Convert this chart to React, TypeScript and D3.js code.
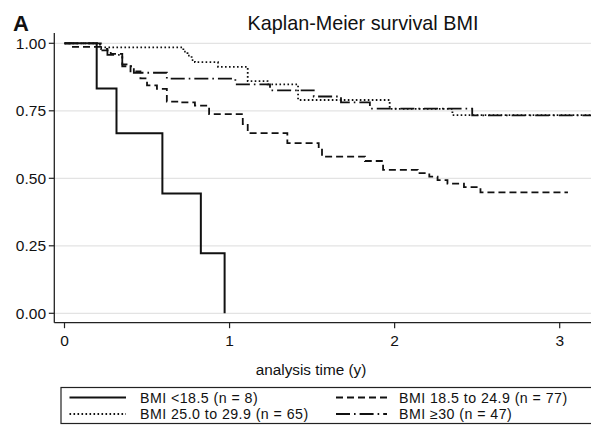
import React, { useEffect, useRef } from "react";
import * as d3 from "d3";

// survival estimates (time in years, survival probability)
const underTime = [0, 0.195, 0.315, 0.593, 0.826, 0.97];
const underSurv = [1, 0.833, 0.667, 0.444, 0.222, 0];

const normalTime = [0, 0.04, 0.22, 0.28, 0.35, 0.4, 0.46, 0.5, 0.56, 0.62, 0.7, 0.79, 0.876, 1.08, 1.11, 1.35, 1.54, 1.56, 1.82, 1.93, 2.14, 2.21, 2.26, 2.32, 2.42, 2.52, 3.05];
const normalSurv = [1, 0.987, 0.974, 0.961, 0.922, 0.896, 0.87, 0.844, 0.831, 0.784, 0.781, 0.769, 0.738, 0.701, 0.667, 0.63, 0.61, 0.58, 0.564, 0.531, 0.519, 0.506, 0.493, 0.48, 0.467, 0.448, 0.448];

const overTime = [0, 0.215, 0.72, 0.745, 0.77, 0.79, 0.93, 1.11, 1.23, 1.415, 1.97, 2.35, 3.2];
const overSurv = [1, 0.985, 0.969, 0.954, 0.938, 0.93, 0.913, 0.86, 0.848, 0.79, 0.757, 0.734, 0.734];

const obeseTime = [0, 0.22, 0.26, 0.35, 0.42, 0.62, 1.035, 1.245, 1.51, 1.675, 1.85, 2.47, 3.2];
const obeseSurv = [1, 0.979, 0.957, 0.915, 0.891, 0.869, 0.848, 0.826, 0.803, 0.781, 0.758, 0.733, 0.733];

const xTicks = [0, 1, 2, 3];
const yTicks = [0, 0.25, 0.5, 0.75, 1];

const FONT = "'Liberation Sans', Arial, Helvetica, sans-serif";

const App = () => {
    const svgRef = useRef(null);
    const width = 591;
    const height = 426;

    useEffect(() => {
        const svg = d3.select(svgRef.current);
        svg.selectAll("*").remove();

        const xScale = d3.scaleLinear().domain([0, 3]).range([64.5, 559.7]);
        const yScale = d3.scaleLinear().domain([0, 1]).range([313.3, 43.3]);

        const plotLeft = 54.3;
        const plotBottom = 322.7;
        const plotTop = 33;

        svg.append("rect").attr("width", width).attr("height", height).attr("fill", "#fff");

        // title + panel letter
        svg.append("text").attr("x", 13).attr("y", 31).attr("font-family", FONT)
            .attr("font-weight", "bold").attr("font-size", 22).attr("fill", "#111").text("A");
        svg.append("text").attr("x", 363).attr("y", 29.5).attr("text-anchor", "middle")
            .attr("font-family", FONT).attr("font-size", 19.8).attr("fill", "#111")
            .text("Kaplan-Meier survival BMI");

        // grid lines
        svg.append("g").selectAll("line").data(yTicks).enter().append("line")
            .attr("x1", plotLeft).attr("x2", width)
            .attr("y1", (d) => yScale(d)).attr("y2", (d) => yScale(d))
            .attr("stroke", "#e3e3e3").attr("stroke-width", 1.2);

        // y axis
        const yAxis = svg.append("g");
        yAxis.append("line").attr("x1", plotLeft).attr("x2", plotLeft)
            .attr("y1", plotTop).attr("y2", plotBottom).attr("stroke", "#222").attr("stroke-width", 1.3);
        yAxis.selectAll(".tk").data(yTicks).enter().append("line")
            .attr("x1", plotLeft - 5.5).attr("x2", plotLeft)
            .attr("y1", (d) => yScale(d)).attr("y2", (d) => yScale(d))
            .attr("stroke", "#222").attr("stroke-width", 1.2);
        yAxis.selectAll("text").data(yTicks).enter().append("text")
            .attr("x", 46).attr("y", (d) => yScale(d) + 5.5)
            .attr("text-anchor", "end").attr("font-family", FONT).attr("font-size", 15.5)
            .attr("fill", "#111").text((d) => d3.format(".2f")(d));

        // x axis
        const xAxis = svg.append("g");
        xAxis.append("line").attr("x1", plotLeft).attr("x2", width)
            .attr("y1", plotBottom).attr("y2", plotBottom).attr("stroke", "#222").attr("stroke-width", 1.3);
        xAxis.selectAll(".tk").data(xTicks).enter().append("line")
            .attr("x1", (d) => xScale(d)).attr("x2", (d) => xScale(d))
            .attr("y1", plotBottom).attr("y2", plotBottom + 5.5)
            .attr("stroke", "#222").attr("stroke-width", 1.2);
        xAxis.selectAll("text").data(xTicks).enter().append("text")
            .attr("x", (d) => xScale(d)).attr("y", 345.5)
            .attr("text-anchor", "middle").attr("font-family", FONT).attr("font-size", 15.5)
            .attr("fill", "#111").text((d) => d);
        svg.append("text").attr("x", 311).attr("y", 375).attr("text-anchor", "middle")
            .attr("font-family", FONT).attr("font-size", 15.3).attr("fill", "#111")
            .text("analysis time (y)");

        const series = [
            { label: "BMI <18.5 (n = 8)", t: underTime, s: underSurv, dash: null },
            { label: "BMI 18.5 to 24.9 (n = 77)", t: normalTime, s: normalSurv, dash: "7,4" },
            { label: "BMI 25.0 to 29.9 (n = 65)", t: overTime, s: overSurv, dash: "1.6,2.4" },
            { label: "BMI \u226530 (n = 47)", t: obeseTime, s: obeseSurv, dash: "14,4,1.6,4" },
        ];

        const line = d3.line()
            .x((d) => xScale(d[0]))
            .y((d) => yScale(d[1]))
            .curve(d3.curveStepAfter);

        svg.append("defs").append("clipPath").attr("id", "clip")
            .append("rect").attr("x", plotLeft).attr("y", 0).attr("width", width - plotLeft).attr("height", plotBottom);

        const curves = svg.append("g").attr("clip-path", "url(#clip)");
        // draw light styles first so the solid line sits on top
        [2, 3, 1, 0].forEach((i) => {
            const d = series[i];
            curves.append("path")
                .datum(d.t.map((t, j) => [t, d.s[j]]))
                .attr("fill", "none").attr("stroke", "#111")
                .attr("stroke-width", i === 0 ? 2 : 1.8)
                .attr("stroke-dasharray", d.dash)
                .attr("d", line);
        });

        // legend
        const legend = svg.append("g");
        legend.append("rect").attr("x", 61).attr("y", 387.5).attr("width", 560).attr("height", 36)
            .attr("fill", "#fff").attr("stroke", "#222").attr("stroke-width", 1.2);
        const cols = [
            { x1: 69.5, x2: 126, tx: 140 },
            { x1: 336, x2: 387, tx: 399 },
        ];
        const rows = [397.5, 414];
        series.forEach((d, i) => {
            const c = cols[i % 2];
            const r = rows[Math.floor(i / 2)];
            legend.append("line").attr("x1", c.x1).attr("x2", c.x2).attr("y1", r).attr("y2", r)
                .attr("stroke", "#111").attr("stroke-width", i === 0 ? 2 : 1.8)
                .attr("stroke-dasharray", d.dash);
            legend.append("text").attr("x", c.tx).attr("y", r + 5)
                .attr("font-family", FONT).attr("font-size", 14.2)
                .attr("letter-spacing", 0.45).attr("fill", "#111").text(d.label);
        });
    }, []);

    return (
        <svg ref={svgRef} width={width} height={height}
            style={{ position: "absolute", left: 0, top: 0, display: "block" }} />
    );
};

export default App;
